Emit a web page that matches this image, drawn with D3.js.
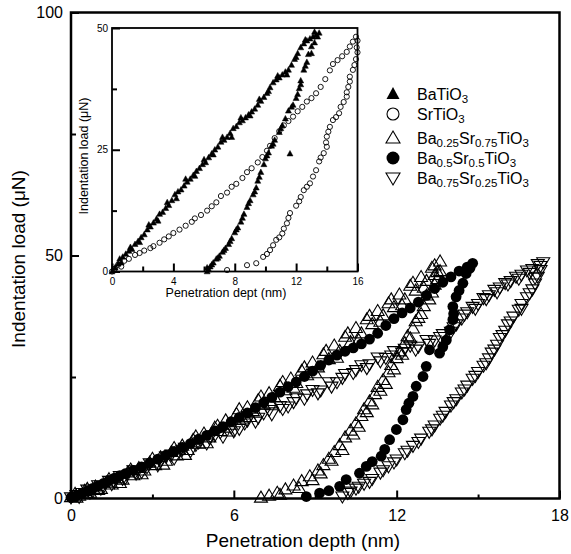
<!DOCTYPE html>
<html>
<head>
<meta charset="utf-8">
<script src="https://cdn.jsdelivr.net/npm/d3@7"></script>
<style>
  html, body { margin: 0; padding: 0; background: #fff; }
  svg { display: block; font-family: Arial, "Liberation Sans", Helvetica, sans-serif; }
</style>
</head>
<body>
<svg id="chart" width="571" height="554"></svg>
<script>
// ---------------- DATA ----------------
// Main plot: [penetration depth (nm), load (µN)]
const mainXTicks = [0, 6, 12, 18];
const mainXMinor = [3, 9, 15];
const mainYTicks = [0, 50, 100];
const mainYMinor = [25, 75];
const insetXTicks = [0, 4, 8, 12, 16];
const insetXMinor = [2, 6, 10, 14];
const insetYTicks = [0, 25, 50];
const insetYMinor = [12.5, 37.5];

const legendNames = [
  [["Ba",0],["TiO",0],["3",1]],
  [["Sr",0],["TiO",0],["3",1]],
  [["Ba",0],["0.25",1],["Sr",0],["0.75",1],["TiO",0],["3",1]],
  [["Ba",0],["0.5",1],["Sr",0],["0.5",1],["TiO",0],["3",1]],
  [["Ba",0],["0.75",1],["Sr",0],["0.25",1],["TiO",0],["3",1]]
];

// Ba0.25Sr0.75TiO3 (open up-triangles), loading + unloading
const ba025Load = [[0,0.3],[0.15,1.0],[0.3,0.6],[0.5,1.6],[0.7,1.2],[0.9,2.5],[1.1,2.0],[1.3,3.3],[1.5,2.9],[1.7,4.2],[1.9,3.9],[2.1,5.4],[2.3,4.8],[2.5,6.3],[2.7,5.8],[2.9,7.4],[3.1,6.9],[3.3,8.5],[3.5,7.8],[3.7,9.6],[3.9,8.9],[4.1,10.9],[4.3,10.0],[4.5,12.1],[4.7,11.3],[4.9,13.4],[5.1,12.6],[5.3,14.6],[5.5,13.9],[5.7,16.1],[5.9,15.2],[6.1,17.4],[6.3,16.5],[6.5,18.8],[6.7,18.0],[6.9,20.3],[7.1,19.3],[7.3,21.7],[7.5,20.8],[7.7,23.2],[7.9,22.3],[8.1,24.7],[8.3,23.8],[8.5,26.3],[8.7,25.4],[8.9,28.0],[9.1,27.0],[9.3,29.7],[9.5,28.7],[9.7,31.5],[9.9,30.4],[10.1,33.3],[10.3,32.2],[10.5,35.1],[10.7,34.0],[10.9,36.9],[11.1,35.9],[11.3,38.6],[11.5,37.7],[11.7,40.2],[11.9,39.4],[12.1,42.0],[12.3,41.0],[12.5,43.8],[12.7,42.8],[12.9,45.6],[13.1,44.8],[13.3,47.5],[13.5,46.6],[13.6,48.8],
  [0.2,0.2],[0.6,2.0],[1.0,1.8],[1.4,4.0],[1.8,3.2],[2.2,6.0],[2.6,5.0],[3.0,8.2],[3.4,7.0],[3.8,10.4],[4.2,9.0],[4.6,12.8],[5.0,11.4],[5.4,15.0],[5.8,13.8],[6.2,18.4],[6.6,16.8],[7.0,21.0],[7.4,19.6],[7.8,24.0],[8.2,22.8],[8.6,27.0],[9.0,25.8],[9.4,30.4],[9.8,29.0],[10.2,34.0],[10.6,32.6],[11.0,37.6],[11.4,36.4],[11.8,41.0],[12.2,39.8],[12.6,44.4],[13.0,43.4],[13.4,48.0]];
const ba025Unload = [[13.6,46.8],[13.5,45.2],[13.4,44.0],[13.3,42.4],[13.2,41.0],[13.0,39.6],[12.9,38.0],[12.7,36.5],[12.6,35.0],[12.4,33.4],[12.3,32.0],[12.1,30.3],[12.0,28.9],[11.8,27.5],[11.7,26.0],[11.5,24.4],[11.3,23.0],[11.2,21.5],[11.0,20.0],[10.8,18.4],[10.7,17.0],[10.5,15.5],[10.3,14.0],[10.1,12.6],[9.9,11.0],[9.7,9.6],[9.5,8.2],[9.3,6.9],[9.1,5.8],[8.8,4.6],[8.5,3.6],[8.2,2.7],[7.9,1.9],[7.6,1.2],[7.3,0.6],[7.0,0.2],
  [13.4,46.0],[13.1,41.8],[12.8,37.2],[12.5,33.0],[12.2,29.6],[11.9,26.6],[11.6,23.6],[11.4,22.2],[11.1,19.4],[10.9,17.8],[10.6,14.8],[10.4,13.2],[10.0,10.0],[9.6,7.8],[9.2,5.2],[8.9,3.8],[8.4,2.2],[7.7,0.8]];

// Ba0.5Sr0.5TiO3 (filled circles)
const ba05Load = [[0.0,0.2],[0.2,0.6],[0.4,1.0],[0.6,1.5],[0.8,2.1],[1.0,2.6],[1.2,3.1],[1.4,3.7],[1.6,4.2],[1.8,4.7],[2.0,5.1],[2.3,5.8],[2.6,6.5],[2.9,7.3],[3.2,8.1],[3.5,8.9],[3.8,9.7],[4.1,10.5],[4.4,11.3],[4.7,12.2],[5.0,13.0],[5.3,13.9],[5.6,14.8],[5.9,15.8],[6.2,16.7],[6.5,17.6],[6.8,18.7],[7.1,19.7],[7.4,20.8],[7.7,21.9],[8.0,23.0],[8.3,24.0],[8.6,25.1],[8.9,26.2],[9.2,27.4],[9.5,28.5],[9.8,29.5],[10.1,30.3],[10.4,31.0],[10.7,31.8],[11.0,32.8],[11.3,34.0],[11.6,35.6],[11.9,37.0],[12.2,38.2],[12.5,39.2],[12.8,40.4],[13.1,41.8],[13.4,43.2],[13.7,44.5],[14.0,45.6],[14.3,46.8],[14.6,47.6],[14.8,48.4]];
const ba05Unload = [[14.7,47.4],[14.56,46.3],[14.44,44.3],[14.3,42.8],[14.19,41.5],[14.07,39.5],[14.1,38.0],[14.07,36.8],[13.95,34.7],[13.83,32.6],[13.7,31.2],[13.58,29.9],[13.21,30.6],[13.09,27.2],[12.97,25.1],[12.72,23.1],[12.60,21.0],[12.45,19.6],[12.35,18.3],[12.23,16.2],[11.99,14.2],[11.74,12.1],[11.56,10.1],[11.43,8.7],[11.1,7.6],[10.88,6.6],[10.63,5.2],[10.14,3.9],[9.90,2.5],[9.5,1.6],[9.16,1.1],[8.67,0.4]];

// Ba0.75Sr0.25TiO3 (open down-triangles)
const ba075Load = [[0.0,0.2],[0.2,0.7],[0.4,1.1],[0.6,1.8],[0.8,1.5],[1.0,2.7],[1.2,2.4],[1.4,3.6],[1.6,3.3],[1.8,4.6],[2.0,4.2],[2.3,5.8],[2.6,5.4],[2.9,7.2],[3.2,6.8],[3.5,8.6],[3.8,8.2],[4.1,10.0],[4.4,9.7],[4.7,11.5],[5.0,11.3],[5.3,13.0],[5.6,12.7],[5.9,14.6],[6.2,14.3],[6.5,16.0],[6.8,15.8],[7.1,17.5],[7.4,17.3],[7.7,19.0],[8.0,18.9],[8.3,20.6],[8.6,20.5],[8.9,22.3],[9.2,22.2],[9.5,23.9],[9.8,23.9],[10.1,25.6],[10.4,25.8],[10.7,27.4],[11.0,27.6],[11.3,29.0],[11.6,28.9],[11.9,30.3],[12.2,30.0],[12.5,31.4],[12.8,31.2],[13.1,32.6],[13.4,32.5],[13.7,33.8],[14.0,34.3],[14.2,35.8],[14.4,37.0],[14.6,38.3],[14.8,39.4],[15.0,40.0],[15.2,41.2],[15.4,41.8],[15.6,42.9],[15.8,43.4],[16.0,44.3],[16.2,44.7],[16.4,45.6],[16.6,46.0],[16.8,46.9],[17.0,47.2],[17.2,48.2],[17.4,48.6],
  [0.3,0.3],[0.7,1.2],[1.1,2.0],[1.5,2.9],[1.9,4.0],[2.4,5.1],[2.8,6.4],[3.3,7.6],[3.7,9.0],[4.2,10.4],[4.6,11.0],[5.1,12.4],[5.5,13.6],[6.0,13.8],[6.4,15.4],[6.9,16.6],[7.3,18.2],[7.8,18.4],[8.2,19.8],[8.7,21.4],[9.1,21.6],[9.6,23.0],[10.0,24.8],[10.5,26.4],[10.9,26.8],[11.4,28.2],[11.8,29.4],[12.3,30.8],[12.7,30.6],[13.2,31.8],[13.6,33.2],[14.1,35.2],[14.5,37.8],[14.9,39.0],[15.3,41.0],[15.7,42.4],[16.1,44.0],[16.5,45.2],[16.9,46.4],[17.3,47.8]];
const ba075Unload = [[17.3,47.0],[17.2,45.6],[17.1,44.2],[17.0,43.0],[16.8,41.4],[16.6,40.0],[16.5,38.8],[16.3,37.4],[16.1,35.8],[16.0,34.5],[15.8,33.0],[15.7,31.6],[15.5,30.0],[15.4,28.8],[15.2,27.3],[15.0,26.0],[14.8,24.6],[14.6,23.2],[14.4,21.8],[14.2,20.4],[14.0,19.1],[13.8,17.8],[13.6,16.4],[13.4,15.0],[13.2,13.7],[12.9,12.3],[12.6,10.8],[12.3,9.3],[12.0,8.0],[11.7,6.6],[11.4,5.3],[11.1,4.0],[10.8,3.0],[10.5,2.0],[10.2,1.1],[10.0,0.4],
  [17.1,45.4],[16.9,42.2],[16.6,39.0],[16.2,36.4],[15.9,33.6],[15.6,30.6],[15.3,27.8],[14.9,25.2],[14.5,22.4],[14.1,19.8],[13.7,17.0],[13.3,14.2],[12.8,11.6],[12.4,9.8],[11.9,7.4],[11.5,5.8],[11.0,3.4],[10.6,2.4],[10.3,1.4]];

// Inset: BaTiO3 (filled triangles)
const batioLoad = [[0.0,0.0],[0.2,0.8],[0.4,1.6],[0.5,2.6],[0.7,3.0],[0.9,3.6],[1.1,4.2],[1.3,4.6],[1.5,5.6],[1.7,6.2],[1.9,7.0],[2.1,7.6],[2.3,8.6],[2.5,9.2],[2.7,10.0],[2.9,10.8],[3.1,11.8],[3.3,12.2],[3.5,13.0],[3.7,13.6],[3.9,14.6],[4.1,15.8],[4.3,16.4],[4.5,16.8],[4.7,17.6],[4.9,18.4],[5.1,19.0],[5.3,19.8],[5.5,20.6],[5.7,21.2],[5.9,22.0],[6.1,22.4],[6.3,23.4],[6.5,24.2],[6.7,25.0],[6.9,25.6],[7.1,26.6],[7.3,27.0],[7.5,27.6],[7.7,28.4],[7.9,29.4],[8.1,29.8],[8.3,30.6],[8.5,31.0],[8.7,31.6],[8.9,32.2],[9.1,32.8],[9.3,33.4],[9.5,34.2],[9.7,35.0],[9.9,35.8],[10.1,36.6],[10.3,37.8],[10.5,38.8],[10.7,39.4],[10.9,39.8],[11.1,40.4],[11.3,41.0],[11.5,41.4],[11.7,42.4],[11.9,43.6],[12.1,44.8],[12.3,46.0],[12.5,46.8],[12.7,47.4],[12.9,47.8],[13.1,48.2],[13.3,48.6],[13.5,49.0],
  [0.6,1.8],[1.2,5.0],[1.8,6.0],[2.4,9.6],[3.0,10.4],[3.6,14.2],[4.2,15.0],[4.8,19.0],[5.4,19.6],[6.0,23.0],[6.6,24.0],[7.2,27.6],[7.8,27.6],[8.4,31.6],[9.0,32.0],[9.6,35.4],[10.2,37.0],[10.8,40.2],[11.4,40.4],[12.0,44.0],[12.6,47.6],[13.2,49.2]];
const batioUnload = [[13.4,48.2],[13.2,47.0],[13.0,46.2],[12.8,44.6],[12.7,43.0],[12.5,41.4],[12.3,39.2],[12.2,37.6],[12.0,35.6],[11.8,34.2],[11.5,33.0],[11.3,31.4],[11.1,30.0],[10.9,28.6],[10.6,27.0],[10.4,25.8],[10.2,24.4],[10.0,23.2],[9.9,22.0],[9.7,20.4],[9.5,18.6],[9.4,17.2],[9.2,15.8],[9.0,14.6],[8.8,13.2],[8.6,11.8],[8.4,10.2],[8.2,9.0],[8.0,8.0],[7.8,6.8],[7.6,5.6],[7.4,4.8],[7.2,4.0],[7.0,3.2],[6.8,2.6],[6.6,1.8],[6.4,1.0],[6.3,0.4],[6.2,0.0],[11.6,24.2],
  [13.0,44.8],[12.6,42.2],[12.3,38.4],[12.1,36.4],[11.7,33.8],[11.0,29.4],[10.5,26.2],[10.1,23.8],[9.6,19.4],[9.3,16.4],[8.9,14.0],[8.5,11.0],[8.1,8.6],[7.7,6.2],[7.3,4.4],[6.9,2.8],[6.5,1.4],[6.2,0.8]];

// Inset: SrTiO3 (open circles)
const srtioLoad = [[0.0,0.0],[0.2,0.6],[0.4,1.4],[0.6,1.0],[0.8,2.2],[1.1,2.6],[1.5,3.4],[1.8,3.8],[2.1,4.3],[2.5,4.8],[2.7,5.2],[3.1,5.9],[3.4,6.6],[3.7,7.2],[4.0,7.9],[4.4,8.6],[4.8,9.4],[5.2,10.2],[5.4,10.9],[5.8,11.6],[6.2,12.5],[6.5,13.4],[6.8,14.2],[7.1,15.5],[7.5,16.2],[7.8,17.4],[8.1,18.0],[8.5,19.2],[8.8,20.4],[9.1,21.2],[9.5,22.4],[9.8,23.5],[10.1,24.8],[10.3,25.8],[10.6,27.4],[10.9,28.8],[11.2,30.0],[11.5,30.9],[11.8,31.8],[12.1,32.9],[12.4,33.8],[12.7,34.9],[13.0,35.6],[13.3,36.6],[13.6,37.9],[13.9,39.5],[14.2,41.3],[14.4,42.6],[14.7,43.4],[15.0,44.2],[15.3,45.1],[15.5,46.2],[15.7,47.2],[15.9,48.2]];
const srtioUnload = [[16.0,47.4],[15.95,46.0],[16.0,45.0],[15.9,43.6],[15.8,42.4],[15.7,41.4],[15.5,40.0],[15.5,39.0],[15.4,37.9],[15.3,36.8],[15.3,35.9],[15.1,34.8],[14.9,33.8],[14.8,32.5],[14.6,31.7],[14.4,31.1],[14.2,29.7],[14.1,28.7],[14.0,27.7],[13.95,26.5],[14.0,25.6],[13.8,24.3],[13.6,23.4],[13.5,22.6],[13.3,20.8],[13.1,19.5],[12.9,18.1],[12.7,17.4],[12.5,16.7],[12.3,15.3],[12.2,14.4],[12.0,13.5],[11.6,12.0],[11.5,11.0],[11.4,9.9],[11.2,8.8],[11.1,7.8],[10.9,7.0],[10.7,6.5],[10.5,5.4],[10.3,4.4],[10.1,3.6],[9.85,3.0],[9.4,1.7],[8.8,1.3],[7.5,0.3]];

// ---------------- DRAWING ----------------
const svg = d3.select("#chart");
const FONT = 'Arial, "Liberation Sans", Helvetica, sans-serif';

const x = d3.scaleLinear().domain([0, 18]).range([71, 559.5]);
const y = d3.scaleLinear().domain([0, 100]).range([498.5, 12.5]);

const xi = d3.scaleLinear().domain([0, 16]).range([112, 357.5]);
const yi = d3.scaleLinear().domain([0, 50]).range([271.5, 28]);

function triPath(w, h, down) {
  const a = -h * 0.58, b = h * 0.42;
  if (!down) return `M0,${a}L${w/2},${b}L${-w/2},${b}Z`;
  return `M0,${-a}L${w/2},${-b}L${-w/2},${-b}Z`;
}

function styleAxis(g, fs) {
  g.select(".domain").remove();
  g.selectAll(".tick line").attr("stroke", "#000").attr("stroke-width", 2);
  g.selectAll(".tick text").attr("fill", "#000").attr("font-size", fs).attr("font-family", FONT);
}

// ---- main axes ----
svg.append("g").attr("transform", "translate(0,498.5)")
  .call(d3.axisBottom(x).tickValues(mainXMinor).tickSize(-4).tickFormat(""))
  .call(g => styleAxis(g, 16));
svg.append("g").attr("transform", "translate(0,498.5)")
  .call(d3.axisBottom(x).tickValues(mainXTicks).tickSize(-8).tickPadding(11.5).tickFormat(d3.format("d")))
  .call(g => styleAxis(g, 16));
svg.append("g").attr("transform", "translate(71,0)")
  .call(d3.axisLeft(y).tickValues(mainYMinor).tickSize(-5).tickFormat(""))
  .call(g => styleAxis(g, 16));
svg.append("g").attr("transform", "translate(71,0)")
  .call(d3.axisLeft(y).tickValues(mainYTicks).tickSize(-8).tickPadding(8).tickFormat(d3.format("d")))
  .call(g => styleAxis(g, 16));

// main data
const mainG = svg.append("g");
mainG.selectAll("circle.b05").data(ba05Load.concat(ba05Unload)).enter().append("circle")
  .attr("cx", d => x(d[0])).attr("cy", d => y(d[1])).attr("r", 5.4).attr("fill", "#000");
mainG.selectAll("path.b025").data(ba025Load.concat(ba025Unload)).enter().append("path")
  .attr("d", triPath(13, 11, false))
  .attr("transform", d => `translate(${x(d[0])},${y(d[1])})`)
  .attr("fill", "none").attr("stroke", "#000").attr("stroke-width", 1.1);
mainG.selectAll("path.b075").data(ba075Load.concat(ba075Unload)).enter().append("path")
  .attr("d", triPath(13, 11, true))
  .attr("transform", d => `translate(${x(d[0])},${y(d[1])})`)
  .attr("fill", "none").attr("stroke", "#000").attr("stroke-width", 1.1);

// main frame
svg.append("rect").attr("x", 71).attr("y", 12.5).attr("width", 488.5).attr("height", 486)
  .attr("fill", "none").attr("stroke", "#000").attr("stroke-width", 2.5);

// main axis titles
svg.append("text").attr("x", 303).attr("y", 547).attr("text-anchor", "middle")
  .attr("font-size", 19).attr("font-family", FONT).text("Penetration depth (nm)");
svg.append("text").attr("transform", "translate(25,259) rotate(-90)").attr("text-anchor", "middle")
  .attr("font-size", 19).attr("font-family", FONT).text("Indentation load (\u03BCN)");

// ---- inset ----
svg.append("rect").attr("x", 112).attr("y", 28).attr("width", 245.5).attr("height", 243.5)
  .attr("fill", "#fff").attr("stroke", "none");

svg.append("g").attr("transform", "translate(0,271.5)")
  .call(d3.axisBottom(xi).tickValues(insetXMinor).tickSize(-5).tickFormat(""))
  .call(g => styleAxis(g, 10));
svg.append("g").attr("transform", "translate(0,271.5)")
  .call(d3.axisBottom(xi).tickValues(insetXTicks).tickSize(-8).tickPadding(6.5).tickFormat(d3.format("d")))
  .call(g => styleAxis(g, 10));
svg.append("g").attr("transform", "translate(112,0)")
  .call(d3.axisLeft(yi).tickValues(insetYMinor).tickSize(-5).tickFormat(""))
  .call(g => styleAxis(g, 10));
svg.append("g").attr("transform", "translate(112,0)")
  .call(d3.axisLeft(yi).tickValues(insetYTicks).tickSize(-8).tickPadding(4).tickFormat(d3.format("d")))
  .call(g => styleAxis(g, 10));

const inG = svg.append("g");
inG.selectAll("circle.sr").data(srtioLoad.concat(srtioUnload)).enter().append("circle")
  .attr("cx", d => xi(d[0])).attr("cy", d => yi(d[1])).attr("r", 2.6)
  .attr("fill", "none").attr("stroke", "#000").attr("stroke-width", 0.9);
inG.selectAll("path.ba").data(batioLoad.concat(batioUnload)).enter().append("path")
  .attr("d", triPath(6, 5.5, false))
  .attr("transform", d => `translate(${xi(d[0])},${yi(d[1])})`)
  .attr("fill", "#000").attr("stroke", "#000").attr("stroke-width", 0.5);

svg.append("rect").attr("x", 112).attr("y", 28).attr("width", 245.5).attr("height", 243.5)
  .attr("fill", "none").attr("stroke", "#000").attr("stroke-width", 1.8);

svg.append("text").attr("x", 226).attr("y", 297).attr("text-anchor", "middle")
  .attr("font-size", 12.5).attr("font-family", FONT).text("Penetration dept (nm)");
svg.append("text").attr("transform", "translate(88,156) rotate(-90)").attr("text-anchor", "middle")
  .attr("font-size", 12.5).attr("font-family", FONT).text("Indentation load (\u03BCN)");

// ---- legend ----
const legRows = [94, 114, 138, 158, 178];
const legX = 393, legTextX = 417;
const leg = svg.append("g");
legendNames.forEach((parts, i) => {
  const cy = legRows[i];
  if (i === 0) leg.append("path").attr("d", triPath(13, 12, false)).attr("transform", `translate(${legX},${cy})`).attr("fill", "#000");
  if (i === 1) leg.append("circle").attr("cx", legX).attr("cy", cy).attr("r", 6).attr("fill", "none").attr("stroke", "#000").attr("stroke-width", 1.1);
  if (i === 2) leg.append("path").attr("d", triPath(14, 12, false)).attr("transform", `translate(${legX},${cy})`).attr("fill", "none").attr("stroke", "#000").attr("stroke-width", 1.1);
  if (i === 3) leg.append("circle").attr("cx", legX).attr("cy", cy).attr("r", 6.5).attr("fill", "#000");
  if (i === 4) leg.append("path").attr("d", triPath(14, 12, true)).attr("transform", `translate(${legX},${cy})`).attr("fill", "none").attr("stroke", "#000").attr("stroke-width", 1.1);
  const t = leg.append("text").attr("x", legTextX).attr("y", cy + 5.5).attr("font-size", 16).attr("font-family", FONT);
  let isSub = false;
  parts.forEach(([s, sub]) => {
    const ts = t.append("tspan").text(s);
    if (sub && !isSub) { ts.attr("dy", 3).attr("font-size", 11.5); isSub = true; }
    else if (sub && isSub) { ts.attr("font-size", 11.5); }
    else if (!sub && isSub) { ts.attr("dy", -3); isSub = false; }
  });
});
</script>
</body>
</html>
